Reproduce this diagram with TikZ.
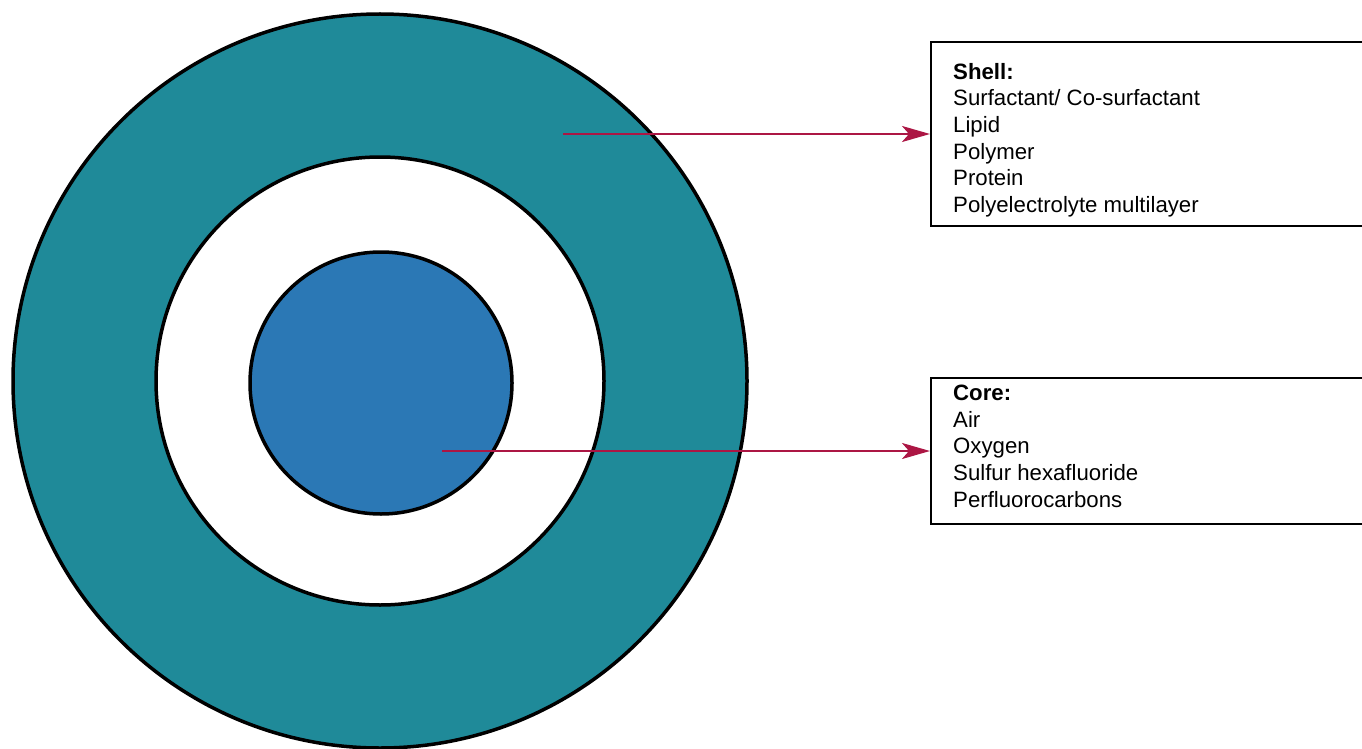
\documentclass[tikz,border=0pt]{standalone}
\usepackage{fontspec}
\setmainfont{Liberation Sans}
\usetikzlibrary{positioning,arrows.meta}
\definecolor{shellteal}{RGB}{31,138,153}
\definecolor{coreblue}{RGB}{43,120,181}
\definecolor{arrowred}{RGB}{172,22,68}
\tikzstyle{disc} = [draw, circle, line width=3.5pt, inner sep=0pt]
\tikzstyle{panel} = [draw, rectangle, line width=2.2pt, minimum width=460pt, anchor=north west]
\tikzstyle{listing} = [anchor=north west, align=left, inner sep=0pt, font=\fontsize{22.2}{26.6}\selectfont]
\tikzstyle{callout} = [draw=arrowred, line width=2.4pt, -{Stealth[length=28pt,width=16pt,inset=7pt]}]

\begin{document}
\begin{tikzpicture}[x=1pt, y=-1pt]
    \useasboundingbox (0,0) rectangle (1362,749);
    % Particle
    \node [disc, fill=shellteal, minimum size=734pt] (shell) at (380,381) {};
    \node [disc, fill=white, minimum size=448pt] (gap) at (shell.center) {};
    \node [disc, fill=coreblue, minimum size=262pt] (core) at (381,383) {};
    % Labels
    \node [panel, minimum height=184pt] (shellbox) at (930,41) {};
    \node [listing, below right=22pt and 23pt of shellbox.north west] (shelltext)
        {\textbf{Shell:}\\Surfactant/ Co-surfactant\\Lipid\\Polymer\\Protein\\Polyelectrolyte multilayer};
    \node [panel, minimum height=146pt] (corebox) at (930,377) {};
    \node [listing, below right=8pt and 23pt of corebox.north west] (coretext)
        {\textbf{Core:}\\Air\\Oxygen\\Sulfur hexafluoride\\Perfluorocarbons};
    % Pointers
    \coordinate (shellfrom) at (563,134);
    \coordinate (corefrom) at (442,451);
    \draw [callout] (shellfrom) -- (shellfrom -| shellbox.west);
    \draw [callout] (corefrom) -- (corefrom -| corebox.west);
\end{tikzpicture}
\end{document}
